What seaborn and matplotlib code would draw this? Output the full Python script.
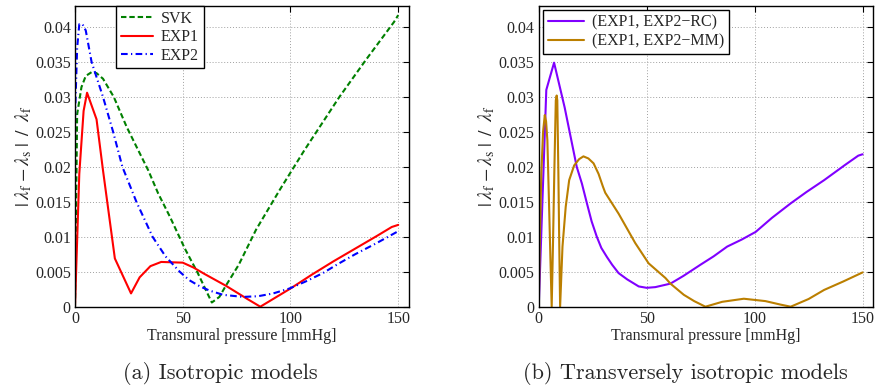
import matplotlib
matplotlib.use("Agg")
import matplotlib.pyplot as plt
import numpy as np
import pandas as pd
import seaborn as sns

# ---- data: relative stretch mismatch vs. transmural pressure ----
svk_p = [0, 1, 3, 5, 8, 10, 13, 18, 24, 28.5, 34, 38.6, 44, 51, 57, 61, 63.5,
         67, 70, 76, 84, 95, 106.5, 122.7, 135, 148, 150]
svk_v = [0.0, 0.0275, 0.0314, 0.0330, 0.0336, 0.0334, 0.0326, 0.0300, 0.0257,
         0.0229, 0.0195, 0.0162, 0.0129, 0.0083, 0.0048, 0.0022, 0.0006,
         0.0014, 0.0030, 0.0060, 0.0110, 0.0167, 0.0224, 0.0300, 0.0353,
         0.0407, 0.0417]

exp1_p = [0, 2, 4, 5.6, 10, 13, 18.5, 26, 30, 35, 40, 50, 55, 60, 70, 80, 86,
          100, 110, 120, 130, 140, 147, 150]
exp1_v = [0.0, 0.0190, 0.0280, 0.0306, 0.0268, 0.0195, 0.0069, 0.0019, 0.0042,
          0.0058, 0.0064, 0.0063, 0.0056, 0.0047, 0.0030, 0.0011, 0.0000,
          0.0026, 0.0046, 0.0065, 0.0083, 0.0101, 0.0114, 0.0117]

exp2_p = [0, 1, 2, 3.5, 5, 7.7, 13, 17.7, 22, 28.5, 36, 42, 48.6, 53, 58, 62.5,
          68.7, 78, 85, 92, 99.5, 107, 115, 122, 130, 140, 150]
exp2_v = [0.0270, 0.0370, 0.0404, 0.0404, 0.0395, 0.0350, 0.0300, 0.0250,
          0.0200, 0.0150, 0.0100, 0.0072, 0.0050, 0.0038, 0.0029, 0.0023,
          0.0017, 0.0014, 0.0015, 0.0019, 0.0026, 0.0036, 0.0048, 0.0061,
          0.0075, 0.0091, 0.0108]

rc_p = [0, 3.5, 7.1, 12, 17.6, 20, 22.3, 24.5, 26.9, 29, 31.6, 34, 37, 41,
        46.3, 50, 54, 61, 67, 74.9, 81, 87.3, 94, 100.5, 108, 116.8, 124,
        132.2, 142, 148, 150]
rc_v = [0.0, 0.0310, 0.0349, 0.0285, 0.0200, 0.0176, 0.0148, 0.0122, 0.0100,
        0.0084, 0.0071, 0.0060, 0.0048, 0.0039, 0.0029, 0.0027, 0.0028,
        0.0033, 0.0044, 0.0060, 0.0072, 0.0086, 0.0096, 0.0107, 0.0127,
        0.0148, 0.0164, 0.0181, 0.0203, 0.0216, 0.0218]

mm_p = [0, 0.5, 1.2, 2.0, 2.8, 3.4, 4.0, 4.8, 5.4, 6.0, 6.6, 7.2, 7.9, 8.3, 8.6,
        9.1, 9.5, 9.9, 11.0, 12.5, 14.1, 16.4, 18.7, 20.7, 23, 25.4, 27.7,
        29.7, 30.8, 37, 44.7, 50.9, 58.7, 61, 67.2, 72, 77.2, 85, 95, 105,
        112, 116.7, 125, 132.2, 141, 150]
mm_v = [0.0, 0.0095, 0.0190, 0.0250, 0.0274, 0.0265, 0.0238, 0.0143, 0.0070,
        0.0, 0.0090, 0.0190, 0.0295, 0.0302, 0.0295, 0.0190, 0.0090, 0.0,
        0.0086, 0.0143, 0.0181, 0.0202, 0.0211, 0.0215, 0.0212, 0.0205,
        0.0190, 0.0172, 0.0163, 0.0133, 0.0091, 0.0062, 0.0041, 0.0033,
        0.0017, 0.0008, 0.0, 0.0007, 0.00114, 0.0008, 0.0003, 0.0, 0.0011,
        0.0024, 0.0036, 0.0049]

x_ticks = [0, 50, 100, 150]
y_ticks = [0, 0.005, 0.01, 0.015, 0.02, 0.025, 0.03, 0.035, 0.04]
y_tick_labels = ["0", "0.005", "0.01", "0.015", "0.02", "0.025", "0.03",
                 "0.035", "0.04"]

# ---- style ----
sns.set_style("white")
plt.rcParams["font.family"] = ["Liberation Serif", "DejaVu Serif"]
plt.rcParams["mathtext.fontset"] = "stix"
plt.rcParams["font.size"] = 11

fig = plt.figure(figsize=(8.76, 3.91), dpi=100)
ax_a = fig.add_axes([0.0856, 0.2156, 0.3813, 0.7690])
ax_b = fig.add_axes([0.6150, 0.2156, 0.3820, 0.7690])

lw = 1.5
sns.lineplot(x=svk_p, y=svk_v, ax=ax_a, color="#008000", lw=lw,
             linestyle=(0, (2.6, 1.4)), label="SVK", sort=False, estimator=None)
sns.lineplot(x=exp1_p, y=exp1_v, ax=ax_a, color="#ff0000", lw=lw,
             label="EXP1", sort=False, estimator=None)
sns.lineplot(x=exp2_p, y=exp2_v, ax=ax_a, color="#0000ff", lw=lw,
             linestyle=(0, (3.2, 1.6, 0.6, 1.6)), label="EXP2", sort=False,
             estimator=None)

sns.lineplot(x=rc_p, y=rc_v, ax=ax_b, color="#8000ff", lw=lw,
             label="(EXP1, EXP2\u2212RC)", sort=False, estimator=None)
sns.lineplot(x=mm_p, y=mm_v, ax=ax_b, color="#bb7f00", lw=lw,
             label="(EXP1, EXP2\u2212MM)", sort=False, estimator=None)

ylab = (r"$|\;\lambda_\mathrm{f} - \lambda_\mathrm{s}\;|\;\;/\;\;"
        r"\lambda_\mathrm{f}$")
for ax in (ax_a, ax_b):
    ax.set_xlim(0, 155)
    ax.set_ylim(0, 0.043)
    ax.set_xticks(x_ticks)
    ax.set_xticklabels([str(t) for t in x_ticks])
    ax.set_yticks(y_ticks)
    ax.set_yticklabels(y_tick_labels)
    ax.grid(True, linestyle=(0, (1, 2)), color="#a0a0a0", lw=0.7)
    ax.tick_params(direction="in", top=True, right=True, length=4,
                   width=0.8, labelsize=11.5, pad=3, color="black")
    for s in ax.spines.values():
        s.set_visible(True)
        s.set_color("black")
        s.set_linewidth(1.0)
    ax.set_xlabel("Transmural pressure [mmHg]", fontsize=11.5, labelpad=1)
    ax.set_ylabel(ylab, fontsize=14, labelpad=1)

leg_a = ax_a.legend(loc="upper left", bbox_to_anchor=(0.123, 1.0),
                    borderaxespad=0, fancybox=False, edgecolor="black",
                    framealpha=1, fontsize=11.5, handlelength=2.0,
                    labelspacing=0.15, borderpad=0.3, handletextpad=0.5)
leg_b = ax_b.legend(loc="upper left", borderaxespad=0.25, fancybox=False,
                    edgecolor="black", framealpha=1, fontsize=11.5,
                    handlelength=2.3, labelspacing=0.15, borderpad=0.3,
                    handletextpad=0.5)
for leg in (leg_a, leg_b):
    leg.get_frame().set_linewidth(1.0)

fig.text(0.252, 0.046, "(a) Isotropic models", ha="center", va="center",
         fontsize=16, family="cmr10")
fig.text(0.782, 0.046, "(b) Transversely isotropic models", ha="center",
         va="center", fontsize=16, family="cmr10")

fig.savefig("out.png", dpi=100)
